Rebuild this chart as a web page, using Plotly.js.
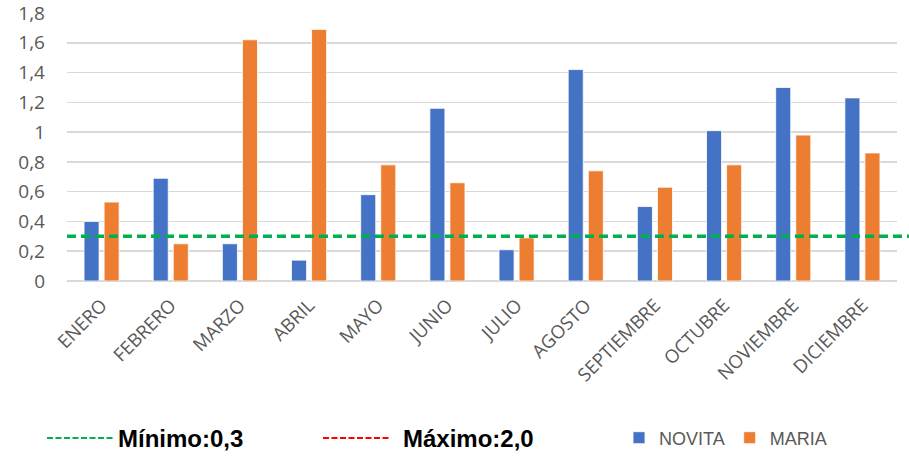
<!DOCTYPE html>
<html>
<head>
<meta charset="utf-8">
<script src="https://cdn.plot.ly/plotly-3.0.1.min.js"></script>
<style>
html,body{margin:0;padding:0;background:#fff;}
#chart{width:909px;height:456px;}
</style>
</head>
<body>
<div id="chart"></div>
<script>
const meses = ["ENERO","FEBRERO","MARZO","ABRIL","MAYO","JUNIO","JULIO","AGOSTO","SEPTIEMBRE","OCTUBRE","NOVIEMBRE","DICIEMBRE"];
const novita = [0.40,0.69,0.25,0.14,0.58,1.16,0.21,1.42,0.50,1.01,1.30,1.23];
const maria  = [0.53,0.25,1.62,1.69,0.78,0.66,0.29,0.74,0.63,0.78,0.98,0.86];
const minimo = 0.3;
const maximo = 2.0;
const yTicks = [0,0.2,0.4,0.6,0.8,1,1.2,1.4,1.6,1.8];

const grayText = "#595959";
const tickFont = {family:"Open Sans, Liberation Sans, sans-serif", size:18.5, color:grayText};

const traces = [
  {type:"bar", name:"NOVITA", x:meses, y:novita,
   marker:{color:"#4472C4", line:{color:"rgba(255,255,255,0.8)", width:1}}},
  {type:"bar", name:"MARIA", x:meses, y:maria,
   marker:{color:"#ED7D31", line:{color:"rgba(255,255,255,0.8)", width:1}}}
];

function fmt(v){ return v.toFixed(1).replace(".", ","); }

const legY = (456-438)/456;

const layout = {
  width:909, height:456,
  margin:{l:67, r:12, t:13, b:175, autoexpand:false},
  paper_bgcolor:"#fff", plot_bgcolor:"#fff",
  separators:",.",
  barmode:"group", bargap:0.42, bargroupgap:0.25,
  font:{family:"Open Sans, Liberation Sans, sans-serif", color:grayText},
  xaxis:{tickangle:-45, tickfont:tickFont, showgrid:false, showline:false, zeroline:false, ticks:"", automargin:false,
         ticklabelstandoff:9},
  yaxis:{range:[0,1.8001], tickvals:yTicks, tickfont:{...tickFont, size:19}, gridcolor:"#d9d9d9", gridwidth:1.5,
         zeroline:true, zerolinecolor:"#d9d9d9", zerolinewidth:1.5, showline:false, ticks:"", ticklabelstandoff:21,
         automargin:false, ticklabeloverflow:"allow"},
  showlegend:true,
  legend:{orientation:"h", xref:"container", yref:"container", x:619/909, xanchor:"left", y:legY, yanchor:"middle",
          font:{family:"Liberation Sans, Arial, sans-serif", size:18, color:grayText}, bgcolor:"rgba(0,0,0,0)"},
  shapes:[
    {type:"line", xref:"paper", yref:"y", x0:0, x1:1.0145, y0:minimo, y1:minimo,
     line:{color:"#00B050", width:3.5, dash:"9px,5px"}},
    {type:"line", xref:"paper", yref:"paper", x0:(47-67)/830, x1:(113-67)/830, y0:(281-438)/268, y1:(281-438)/268,
     line:{color:"#00B050", width:2, dash:"6px,2.5px"}},
    {type:"line", xref:"paper", yref:"paper", x0:(323-67)/830, x1:(390-67)/830, y0:(281-438)/268, y1:(281-438)/268,
     line:{color:"#FF0000", width:2, dash:"6px,2.5px"}}
  ],
  annotations:[
    {xref:"paper", yref:"paper", x:(116-67)/830, y:(281-438)/268, xanchor:"left", yanchor:"middle", showarrow:false,
     text:"Mínimo:" + fmt(minimo), font:{family:"Liberation Sans, Arial, sans-serif", size:24, color:"#000", weight:"bold"}},
    {xref:"paper", yref:"paper", x:(401-67)/830, y:(281-438)/268, xanchor:"left", yanchor:"middle", showarrow:false,
     text:"Máximo:" + fmt(maximo), font:{family:"Liberation Sans, Arial, sans-serif", size:24, color:"#000", weight:"bold"}}
  ]
};

Plotly.newPlot("chart", traces, layout, {displayModeBar:false, staticPlot:true});
</script>
</body>
</html>
